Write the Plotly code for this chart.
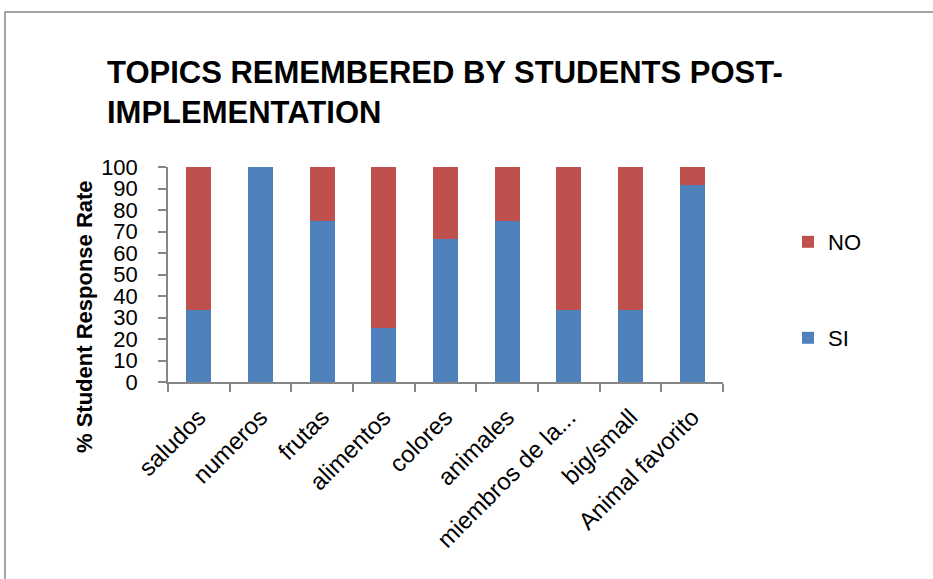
import plotly.graph_objects as go

categories = ["saludos", "numeros", "frutas", "alimentos", "colores", "animales",
              "miembros de la...", "big/small", "Animal favorito"]
si_values = [33.3, 100, 75, 25, 66.7, 75, 33.3, 33.3, 91.7]
no_values = [66.7, 0, 25, 75, 33.3, 25, 66.7, 66.7, 8.3]
y_ticks = [0, 10, 20, 30, 40, 50, 60, 70, 80, 90, 100]

FONT = "Liberation Sans, Arial, sans-serif"
BLUE = "#4F81BD"
RED = "#C0504D"
GRAY = "#868686"

fig = go.Figure()
fig.add_trace(go.Bar(x=categories, y=si_values, name="SI", marker_color=BLUE,
                     marker_line_width=0, legend="legend2"))
fig.add_trace(go.Bar(x=categories, y=no_values, name="NO", marker_color=RED,
                     marker_line_width=0, legend="legend"))

W, H = 933, 579
L, R, T, B = 168, 723, 167, 382
pw, ph = R - L, B - T

def px(x):
    return (x - L) / pw

def py(y):
    return (B - y) / ph

legend_style = dict(xanchor="left", yanchor="middle",
                    font=dict(size=22, family=FONT),
                    itemwidth=30, bgcolor="rgba(0,0,0,0)")

fig.update_layout(
    width=W, height=H,
    barmode="stack",
    bargap=0.595,
    plot_bgcolor="white",
    paper_bgcolor="white",
    margin=dict(l=L, r=W - R, t=T, b=H - B, pad=0, autoexpand=False),
    font=dict(family=FONT, color="black"),
    showlegend=True,
    legend=dict(x=px(788), y=py(242), **legend_style),
    legend2=dict(x=px(788), y=py(338), **legend_style),
    xaxis=dict(
        showline=True, linecolor=GRAY, linewidth=1.5,
        ticks="outside", tickson="boundaries", ticklen=8, tickcolor=GRAY, tickwidth=1.5,
        tickangle=-45, tickfont=dict(size=24, family=FONT),
        ticklabelstandoff=10,
        showgrid=False,
    ),
    yaxis=dict(
        range=[0, 100], tickvals=y_ticks,
        showline=True, linecolor=GRAY, linewidth=1.5,
        ticks="outside", ticklen=8, tickcolor=GRAY, tickwidth=1.5,
        tickfont=dict(size=22, family=FONT),
        ticklabelstandoff=16,
        showgrid=False, zeroline=False,
    ),
)

fig.add_annotation(
    text="<b>TOPICS REMEMBERED BY STUDENTS POST-<br>IMPLEMENTATION</b>",
    xref="paper", yref="paper", x=px(105), y=py(92),
    xanchor="left", yanchor="middle", align="left", showarrow=False,
    font=dict(size=31, family=FONT, color="black"),
)
fig.add_annotation(
    text="<b>% Student Response Rate</b>",
    xref="paper", yref="paper", x=px(84), y=py(317),
    xanchor="center", yanchor="middle", textangle=-90, showarrow=False,
    font=dict(size=22, family=FONT, color="black"),
)
fig.add_shape(
    type="rect", xref="paper", yref="paper",
    x0=px(5), x1=px(960), y0=py(620), y1=py(12),
    line=dict(color=GRAY, width=1.5), fillcolor="rgba(0,0,0,0)", layer="below",
)

fig.write_html("out.html", config={"displayModeBar": False},
               post_script="document.body.style.margin='0';")
